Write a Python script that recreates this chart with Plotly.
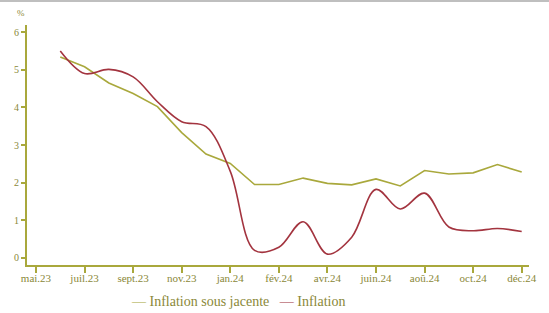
import plotly.graph_objects as go

# Month positions of the data (juin.23 ... déc.24 on the chart's axis grid)
periods = list(range(1, 21))
tick_positions = list(range(0, 21, 2))
tick_labels = ["mai.23", "juil.23", "sept.23", "nov.23", "jan.24", "fév.24",
               "avr.24", "juin.24", "aoû.24", "oct.24", "déc.24"]

inflation_sous_jacente = [5.34, 5.08, 4.65, 4.37, 4.02, 3.33, 2.76, 2.51, 1.95, 1.95,
                          2.12, 1.98, 1.94, 2.10, 1.91, 2.32, 2.23, 2.26, 2.48, 2.28]
inflation = [5.50, 4.90, 5.01, 4.81, 4.15, 3.62, 3.49, 2.30, 0.20, 0.28,
             0.96, 0.10, 0.55, 1.82, 1.30, 1.72, 0.82, 0.72, 0.78, 0.70]

OLIVE = "#a9a83c"
RED = "#a3343f"
TEXT = "#8a8838"
FONT = "Liberation Serif"

fig = go.Figure()
fig.add_trace(go.Scatter(x=periods, y=inflation_sous_jacente, mode="lines",
                         name="Inflation sous jacente",
                         line=dict(color=OLIVE, width=1.6), showlegend=False))
fig.add_trace(go.Scatter(x=periods, y=inflation, mode="lines", name="Inflation",
                         line=dict(color=RED, width=1.6, shape="spline", smoothing=1.0),
                         showlegend=False))

fig.update_layout(
    width=549, height=313,
    margin=dict(l=27, r=17, t=25, b=48),
    paper_bgcolor="white", plot_bgcolor="white",
    font=dict(family=FONT, color=TEXT, size=11),
    xaxis=dict(range=[-0.37, 20.3], tickmode="array", tickvals=tick_positions,
               ticktext=tick_labels, showgrid=False, zeroline=False,
               showline=True, linecolor=OLIVE, linewidth=2,
               ticks="outside", ticklen=6, tickcolor=OLIVE, tickwidth=1.5,
               ticklabelstandoff=-4,
               tickfont=dict(family=FONT, color=TEXT, size=11)),
    yaxis=dict(range=[-0.19, 6.19], tickvals=[0, 1, 2, 3, 4, 5, 6],
               showgrid=False, zeroline=False,
               showline=True, linecolor=OLIVE, linewidth=2,
               ticks="outside", ticklen=4, tickcolor=OLIVE, tickwidth=1.5,
               tickfont=dict(family=FONT, color=TEXT, size=10)),
    shapes=[dict(type="line", xref="paper", yref="paper", x0=-0.06, x1=1.04,
                 y0=1.1, y1=1.1, line=dict(color="#aaaaaa", width=1.5))],
    annotations=[
        dict(text="%", xref="paper", yref="paper", x=-0.012, y=1.05,
             xanchor="center", yanchor="middle",
             showarrow=False, font=dict(family=FONT, size=9, color=TEXT)),
        dict(text=f"<span style='color:{OLIVE}'>—</span> Inflation sous jacente"
                  f"   <span style='color:{RED}'>—</span> Inflation",
             xref="paper", yref="paper", x=0.42, y=-0.15, xanchor="center",
             yanchor="middle", showarrow=False,
             font=dict(family=FONT, size=14, color=TEXT)),
    ],
)

fig.write_html("out.html", post_script="document.body.style.margin='0';",
               config={"displayModeBar": False})
